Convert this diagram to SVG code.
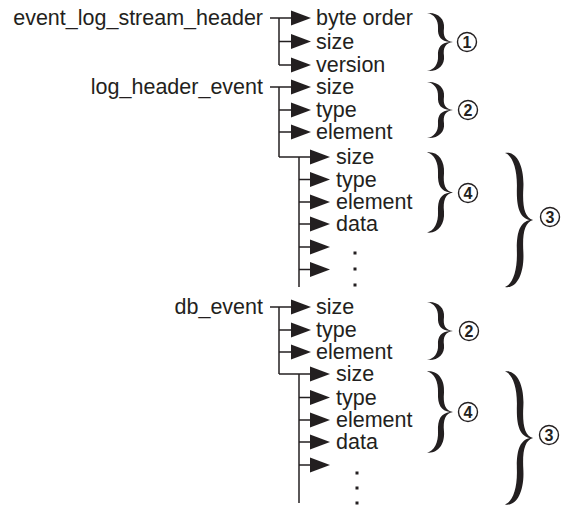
<svg xmlns="http://www.w3.org/2000/svg" xmlns:xlink="http://www.w3.org/1999/xlink" width="566" height="507" viewBox="0 0 566 507">
<style>
  .t { font-family: "Liberation Sans", Arial, sans-serif; font-size: 21.5px; fill: #231f20; }
  .lbl { text-anchor: end; }
  .ln { stroke: #231f20; stroke-width: 1.5; fill: none; }
  .arr { stroke: #231f20; stroke-width: 1.5; fill: none; marker-end: url(#ah); }
  .br { fill: #231f20; }
  .cc { fill: #fff; stroke: #231f20; stroke-width: 1.4; }
  .cn { font-family: "Liberation Sans", Arial, sans-serif; font-size: 16px; font-weight: bold; fill: #231f20; text-anchor: middle; }
  .dot { fill: #231f20; }
</style>
<defs>
  <marker id="ah" markerUnits="userSpaceOnUse" markerWidth="21" markerHeight="16" refX="0" refY="7.5" orient="auto" overflow="visible">
    <path d="M0,0 L20,7.5 L0,15 Z" fill="#231f20"/>
  </marker>
  <path id="brace" d="M0,-29 C11,-30 18,-23 17,-14 C16,-6 18,-1 26,0 C18,1 16,6 17,14 C18,23 11,30 0,29 C7,28 11.5,22 11,14 C10.5,5 14,1 23,0 C14,-1 10.5,-5 11,-14 C11.5,-22 7,-28 0,-29 Z"/>
</defs>

<g id="connectors">
  <!-- event_log_stream_header -->
  <path class="ln" d="M279,18 V65"/>
  <path class="arr" d="M270,18 H291"/>
  <path class="arr" d="M279,41.5 H291"/>
  <path class="arr" d="M279,65 H291"/>
  <!-- log_header_event -->
  <path class="ln" d="M279,87 V157"/>
  <path class="arr" d="M270,87 H291"/>
  <path class="arr" d="M279,110 H291"/>
  <path class="arr" d="M279,132 H291"/>
  <path class="arr" d="M279,157 H310"/>
  <path class="ln" d="M299,157 V287"/>
  <path class="arr" d="M299,179.5 H310"/>
  <path class="arr" d="M299,202 H310"/>
  <path class="arr" d="M299,224 H310"/>
  <path class="arr" d="M299,247 H310"/>
  <path class="arr" d="M299,269.5 H310"/>
  <!-- db_event -->
  <path class="ln" d="M279,307 V374"/>
  <path class="arr" d="M270,307 H291"/>
  <path class="arr" d="M279,330 H291"/>
  <path class="arr" d="M279,352 H291"/>
  <path class="arr" d="M279,374 H310"/>
  <path class="ln" d="M299,374 V503"/>
  <path class="arr" d="M299,397.5 H310"/>
  <path class="arr" d="M299,420 H310"/>
  <path class="arr" d="M299,442 H310"/>
  <path class="arr" d="M299,465 H310"/>
</g>

<g id="event_log_stream_header">
  <text class="t lbl" x="263" y="25">event_log_stream_header</text>
  <text class="t" x="316" y="25">byte order</text>
  <text class="t" x="316" y="48.5">size</text>
  <text class="t" x="316" y="72">version</text>
  <use xlink:href="#brace" class="br" transform="translate(427,42) scale(1,1)"/>
  <circle class="cc" cx="467" cy="42" r="9.5"/>
  <text class="cn" x="467" y="47.5">1</text>
</g>

<g id="log_header_event">
  <text class="t lbl" x="263" y="94">log_header_event</text>
  <text class="t" x="316" y="94">size</text>
  <text class="t" x="316" y="117">type</text>
  <text class="t" x="316" y="139">element</text>
  <use xlink:href="#brace" class="br" transform="translate(427,110) scale(1,0.966)"/>
  <circle class="cc" cx="468" cy="110" r="9.5"/>
  <text class="cn" x="468" y="115.5">2</text>
</g>

<g id="log_header_event_elements">
  <text class="t" x="336" y="164">size</text>
  <text class="t" x="336" y="186.5">type</text>
  <text class="t" x="336" y="209">element</text>
  <text class="t" x="336" y="231">data</text>
  <rect class="dot" x="353.5" y="251.5" width="3" height="3"/>
  <rect class="dot" x="353.5" y="267.5" width="3" height="3"/>
  <rect class="dot" x="353.5" y="283.5" width="3" height="3"/>
  <use xlink:href="#brace" class="br" transform="translate(427,192.5) scale(1,1.38)"/>
  <circle class="cc" cx="468" cy="193" r="9.5"/>
  <text class="cn" x="468" y="198.5">4</text>
  <use xlink:href="#brace" class="br" transform="translate(505,220) scale(1.08,2.31)"/>
  <circle class="cc" cx="550" cy="217" r="9.5"/>
  <text class="cn" x="550" y="222.5">3</text>
</g>

<g id="db_event">
  <text class="t lbl" x="263" y="314">db_event</text>
  <text class="t" x="316" y="314">size</text>
  <text class="t" x="316" y="337">type</text>
  <text class="t" x="316" y="359">element</text>
  <use xlink:href="#brace" class="br" transform="translate(427,331) scale(1,1)"/>
  <circle class="cc" cx="469" cy="331" r="9.5"/>
  <text class="cn" x="469" y="336.5">2</text>
</g>

<g id="db_event_elements">
  <text class="t" x="336" y="381">size</text>
  <text class="t" x="336" y="404.5">type</text>
  <text class="t" x="336" y="427">element</text>
  <text class="t" x="336" y="449">data</text>
  <rect class="dot" x="355.5" y="471.5" width="3" height="3"/>
  <rect class="dot" x="355.5" y="486.5" width="3" height="3"/>
  <rect class="dot" x="355.5" y="501.5" width="3" height="3"/>
  <use xlink:href="#brace" class="br" transform="translate(427,412) scale(1,1.4)"/>
  <circle class="cc" cx="468" cy="412" r="9.5"/>
  <text class="cn" x="468" y="417.5">4</text>
  <use xlink:href="#brace" class="br" transform="translate(505,438) scale(1.08,2.29)"/>
  <circle class="cc" cx="549" cy="435" r="9.5"/>
  <text class="cn" x="549" y="440.5">3</text>
</g>
</svg>
